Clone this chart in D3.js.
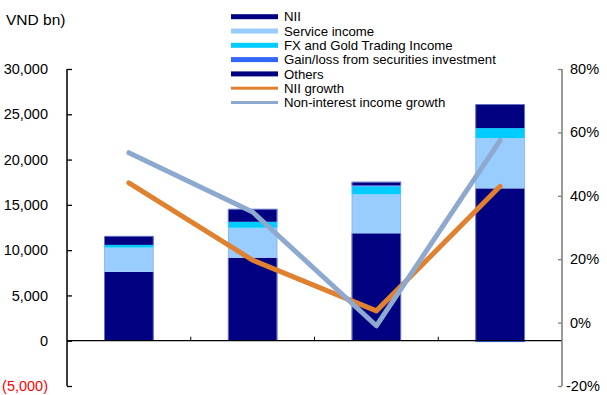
<!DOCTYPE html>
<html>
<head>
<meta charset="utf-8">
<script src="https://cdn.jsdelivr.net/npm/d3@7/dist/d3.min.js"></script>
<style>
  html, body { margin: 0; padding: 0; background: #fff; }
  svg { display: block; font-family: "Liberation Sans", Arial, sans-serif; }
</style>
</head>
<body>
<svg id="chart" width="607" height="395"></svg>
<script>
// ---- data ----
const categories = ["Y1", "Y2", "Y3", "Y4"];
const nii = [7600, 9160, 11860, 16820];
const serviceIncome = [2680, 3310, 4300, 5550];
const fxGold = [300, 660, 880, 1100];
const gainLoss = [0, 0, 110, -150];
const others = [990, 1430, 400, 2650];
const niiGrowth = [0.441, 0.197, 0.037, 0.43];
const nonInterestGrowth = [0.536, 0.349, -0.01, 0.575];
const leftTicks = [-5000, 0, 5000, 10000, 15000, 20000, 25000, 30000];
const rightTicks = [-0.2, 0, 0.2, 0.4, 0.6, 0.8];

const seriesNames = ["NII", "Service income", "FX and Gold Trading Income", "Gain/loss from securities investment", "Others"];
const seriesValues = [nii, serviceIncome, fxGold, gainLoss, others];
const seriesColors = ["#000080", "#99CCFF", "#00CCFF", "#3366FF", "#000080"];
const lineNames = ["NII growth", "Non-interest income growth"];
const lineValues = [niiGrowth, nonInterestGrowth];
const lineColors = ["#E0812F", "#8EA9D0"];

const svg = d3.select("#chart");
const x0 = 67, x1 = 562, yTop = 69, yBot = 386;

const x = d3.scaleBand().domain(categories).range([x0, x1]).paddingInner(0.6).paddingOuter(0.3);
const xCat = d3.scaleBand().domain(categories).range([x0, x1]).padding(0);
const yL = d3.scaleLinear().domain([-5000, 30000]).range([yBot, yTop]);
const yR = d3.scaleLinear().domain([-0.2, 0.8]).range([yBot, yTop]);

// ---- stacked bars (positive stack up, negative stack down) ----
const gBars = svg.append("g");
categories.forEach((c, i) => {
  let pos = 0, neg = 0;
  seriesValues.forEach((vals, s) => {
    const v = vals[i];
    if (v === 0) return;
    let a, b;
    if (v > 0) { a = pos; b = pos + v; pos = b; }
    else { a = neg + v; b = neg; neg = a; }
    gBars.append("rect")
      .attr("x", x(c))
      .attr("width", x.bandwidth())
      .attr("y", yL(b))
      .attr("height", Math.max(1, yL(a) - yL(b)))
      .attr("fill", seriesColors[s]);
  });
  gBars.append("rect")
    .attr("x", x(c) + 0.5)
    .attr("width", x.bandwidth() - 1)
    .attr("y", yL(pos) + 0.5)
    .attr("height", yL(0) - yL(pos) - 0.5)
    .attr("fill", "none")
    .attr("stroke", "#8FA8E8")
    .attr("stroke-width", 0.6);
});

// ---- baseline with category ticks ----
svg.append("line")
  .attr("x1", x0).attr("x2", x1).attr("y1", yL(0)).attr("y2", yL(0))
  .attr("stroke", "#000").attr("stroke-width", 1.3);
categories.slice(1).forEach(c => {
  svg.append("line")
    .attr("x1", xCat(c)).attr("x2", xCat(c))
    .attr("y1", yL(0)).attr("y2", yL(0) - 4)
    .attr("stroke", "#000").attr("stroke-width", 1);
});

// ---- left axis ----
const leftAxis = d3.axisRight(yL).tickValues(leftTicks).tickSize(5).tickFormat("");
const gL = svg.append("g").attr("transform", `translate(${x0},0)`).call(leftAxis);
gL.select(".domain").attr("d", `M0,${yTop}V${yBot}`).attr("stroke", "#000").attr("stroke-width", 1.5);
gL.selectAll(".tick line").attr("stroke", "#000").attr("stroke-width", 1.3);
const fmt = d3.format(",");
svg.append("g").selectAll("text").data(leftTicks).join("text")
  .attr("x", 48).attr("y", d => yL(d)).attr("dy", "0.35em")
  .attr("text-anchor", "end")
  .attr("font-size", 14.5)
  .attr("fill", d => d < 0 ? "#FF0000" : "#000")
  .text(d => d < 0 ? `(${fmt(-d)})` : fmt(d));

svg.append("text").attr("x", 6).attr("y", 25).attr("font-size", 15.5).attr("fill", "#000").text("VND bn)");

// ---- right axis ----
const rightAxis = d3.axisLeft(yR).tickValues(rightTicks).tickSize(4).tickFormat("");
const gR = svg.append("g").attr("transform", `translate(${x1},0)`).call(rightAxis);
gR.select(".domain").attr("d", `M0,${yTop}V${yBot}`).attr("stroke", "#808080").attr("stroke-width", 1.6);
gR.selectAll(".tick line").attr("stroke", "#808080").attr("stroke-width", 1.3);
svg.append("g").selectAll("text").data(rightTicks).join("text")
  .attr("x", d => d < 0 ? 566 : 570).attr("y", d => yR(d)).attr("dy", "0.35em")
  .attr("text-anchor", "start")
  .attr("font-size", 14.5)
  .attr("fill", "#000")
  .text(d => d3.format(".0%")(d).replace("\u2212", "-"));

// ---- growth lines ----
const line = d3.line()
  .x((d, i) => xCat(categories[i]) + xCat.bandwidth() / 2)
  .y(d => yR(d));
lineValues.forEach((vals, k) => {
  svg.append("path")
    .attr("d", line(vals))
    .attr("fill", "none")
    .attr("stroke", lineColors[k])
    .attr("stroke-width", 5)
    .attr("stroke-linecap", "round")
    .attr("stroke-linejoin", "round");
});

// ---- legend ----
const legendItems = seriesNames.map((n, i) => ({ name: n, color: seriesColors[i], type: "bar" }))
  .concat(lineNames.map((n, i) => ({ name: n, color: lineColors[i], type: "line" })));
const lg = svg.append("g");
legendItems.forEach((d, i) => {
  const cy = 16.7 + i * 14.3;
  lg.append("rect")
    .attr("x", 231).attr("width", 47)
    .attr("y", cy - (d.type === "bar" ? 2.5 : 1.5))
    .attr("height", d.type === "bar" ? 5 : 3)
    .attr("fill", d.color);
  lg.append("text")
    .attr("x", 284).attr("y", cy).attr("dy", "0.35em")
    .attr("font-size", 13.2)
    .attr("fill", "#000")
    .text(d.name);
});
</script>
</body>
</html>
